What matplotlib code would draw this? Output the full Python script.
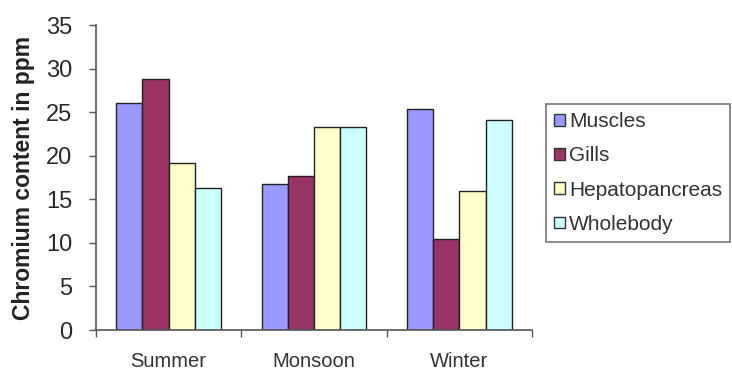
import numpy as np
import matplotlib.pyplot as plt
from matplotlib.patches import Patch

plt.rcParams['font.family'] = ['Liberation Sans', 'DejaVu Sans']

seasons = ['Summer', 'Monsoon', 'Winter']
tissues = ['Muscles', 'Gills', 'Hepatopancreas', 'Wholebody']
muscles = [26.1, 16.8, 25.4]
gills = [28.8, 17.7, 10.5]
hepatopancreas = [19.2, 23.3, 16.0]
wholebody = [16.3, 23.3, 24.1]

colors = ['#9999ff', '#993366', '#ffffcc', '#ccffff']

fig = plt.figure(figsize=(7.32, 3.71), dpi=100)
ax = fig.add_axes([0.131, 0.1105, 0.596, 0.822])

x = np.arange(len(seasons))
w = 0.18
series = [muscles, gills, hepatopancreas, wholebody]
for i, vals in enumerate(series):
    ax.bar(x + (i - 1.5) * w, vals, width=w, color=colors[i],
           edgecolor='#222222', linewidth=1.0, label=tissues[i])

ax.set_xlim(-0.5, 2.5)
ax.set_ylim(0, 35)
ax.set_yticks(range(0, 36, 5))
ax.tick_params(axis='y', labelsize=17, length=5, color='#555555',
               labelcolor='#2a2a2a', width=1, pad=12)

# category boundaries get the tick marks, names sit in the middle
ax.set_xticks([-0.5, 0.5, 1.5, 2.5])
ax.set_xticklabels([])
ax.tick_params(axis='x', which='major', length=5, color='#555555', width=1)
ax.set_xticks(x, minor=True)
ax.set_xticklabels(seasons, minor=True)
ax.tick_params(axis='x', which='minor', length=0, labelsize=14.5,
               labelcolor='#333333', pad=16)

for s in ['top', 'right']:
    ax.spines[s].set_visible(False)
for s in ['left', 'bottom']:
    ax.spines[s].set_color('#555555')
    ax.spines[s].set_linewidth(1.2)

ax.set_ylabel('Chromium content in ppm', fontsize=16.5, fontweight='bold',
              color='#222222', labelpad=8)

handles = [Patch(facecolor=c, edgecolor='#333333', label=t)
           for c, t in zip(colors, tissues)]
leg = fig.legend(handles=handles, loc='upper left',
                 bbox_to_anchor=(0.746, 0.72), fontsize=15,
                 frameon=True, fancybox=False, handlelength=0.5,
                 handleheight=0.5, handletextpad=0.2, labelspacing=0.73,
                 borderpad=0.4, borderaxespad=0)
leg.get_frame().set_edgecolor('#555555')
leg.get_frame().set_linewidth(1.2)
for t in leg.get_texts():
    t.set_color('#333333')

fig.savefig('out.png', dpi=100)
